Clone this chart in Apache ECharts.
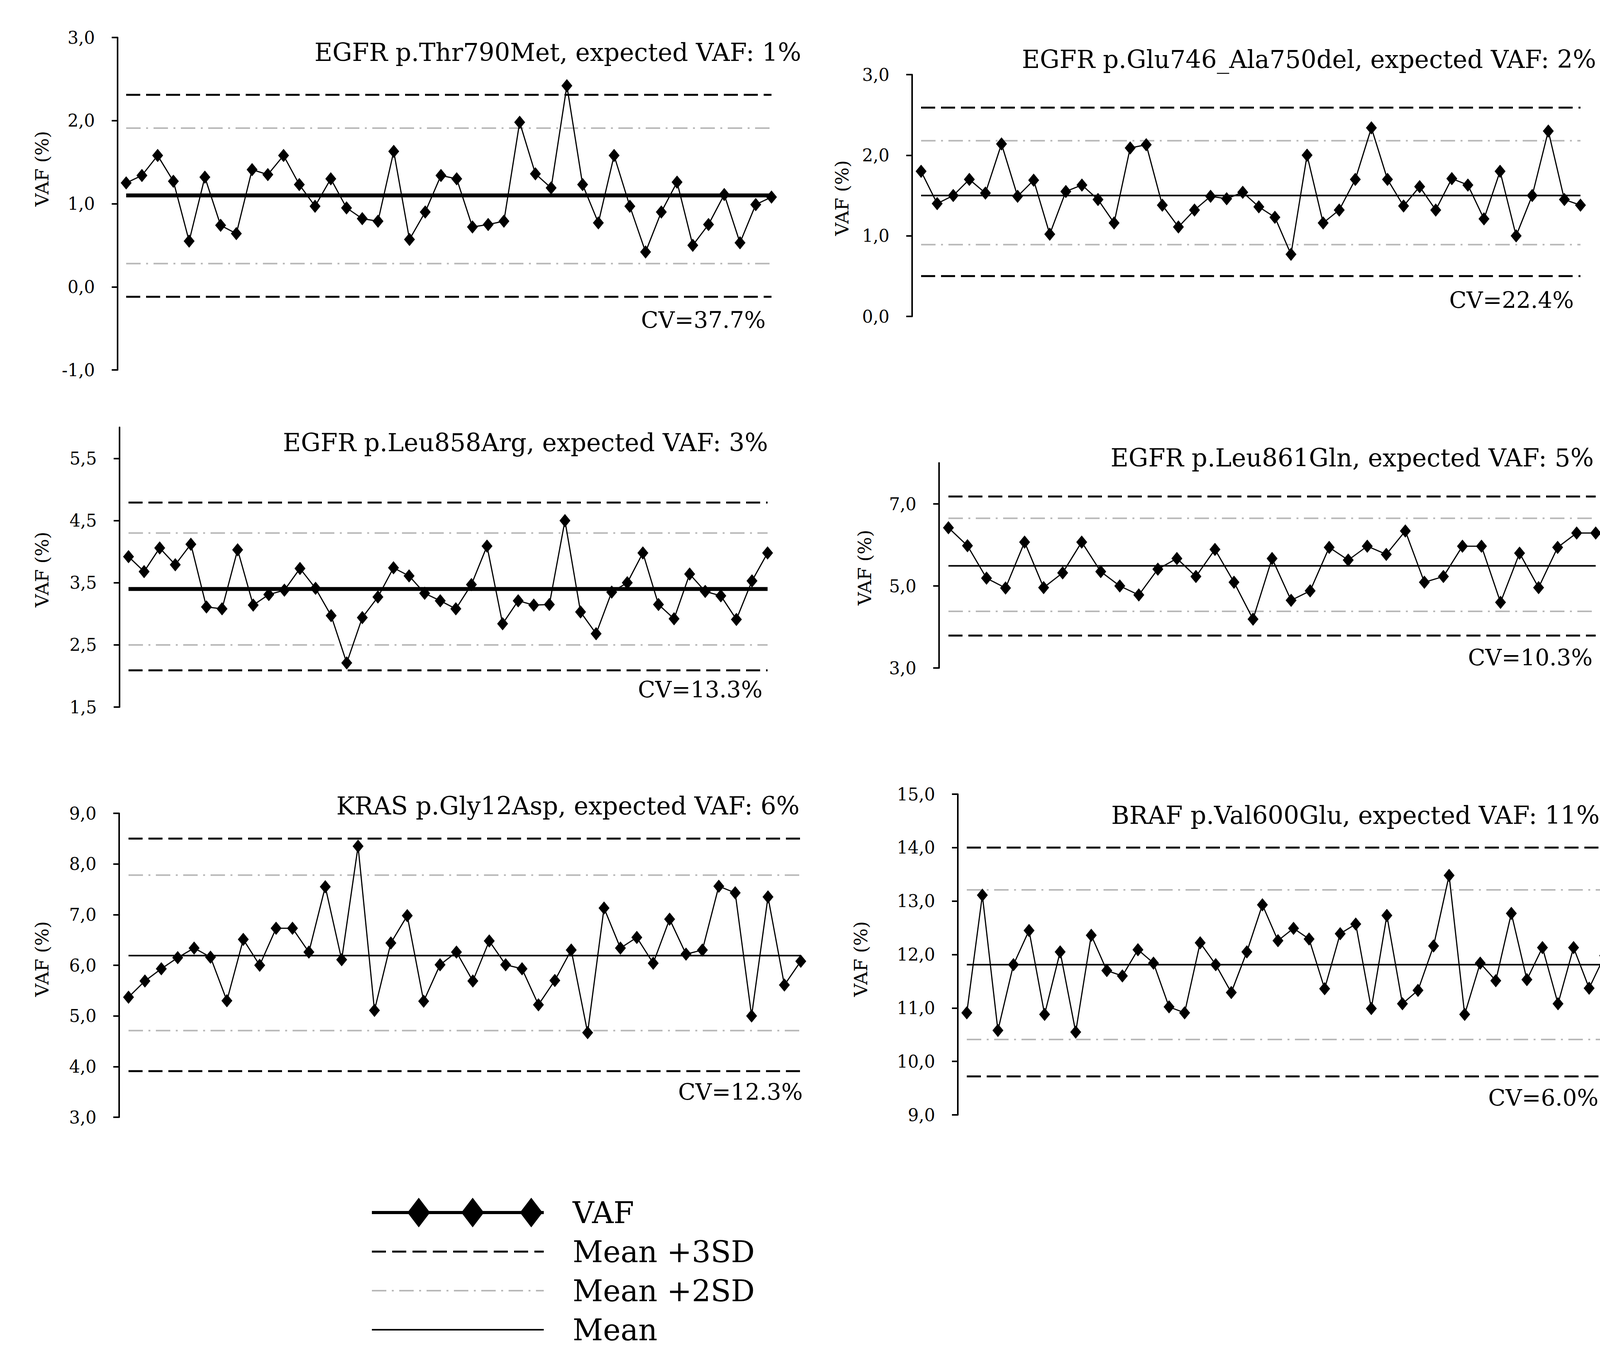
<!DOCTYPE html>
<html><head><meta charset="utf-8">
<script src="https://cdn.jsdelivr.net/npm/echarts@6/dist/echarts.min.js"></script>
<style>html,body{margin:0;padding:0;background:#fff;}#c{width:4181px;height:3461px;}</style>
</head><body><div id="c"></div>
<script>
// ---------------- DATA ----------------
const panelTitles = [
  'EGFR p.Thr790Met, expected VAF: 1%',
  'EGFR p.Glu746_Ala750del, expected VAF: 2%',
  'EGFR p.Leu858Arg, expected VAF: 3%',
  'EGFR p.Leu861Gln, expected VAF: 5%',
  'KRAS p.Gly12Asp, expected VAF: 6%',
  'BRAF p.Val600Glu, expected VAF: 11%'
];
const cvLabels = ['CV=37.7%', 'CV=22.4%', 'CV=13.3%', 'CV=10.3%', 'CV=12.3%', 'CV=6.0%'];
const yAxisTitle = 'VAF (%)';
const legendNames = ['VAF', 'Mean +3SD', 'Mean +2SD', 'Mean'];

const vafT790M = [1.25,1.34,1.58,1.27,0.55,1.32,0.74,0.64,1.41,1.35,1.58,1.23,0.97,1.30,0.95,0.82,0.79,1.63,0.57,0.90,1.34,1.30,0.72,0.75,0.79,1.98,1.36,1.19,2.42,1.23,0.77,1.58,0.97,0.42,0.90,1.26,0.50,0.75,1.11,0.53,0.99,1.08];
const vafE746del = [1.80,1.40,1.50,1.70,1.53,2.14,1.49,1.69,1.02,1.55,1.63,1.45,1.16,2.09,2.13,1.38,1.11,1.32,1.49,1.46,1.54,1.36,1.23,0.77,2.00,1.16,1.32,1.70,2.34,1.70,1.37,1.61,1.32,1.71,1.63,1.21,1.80,1.00,1.50,2.30,1.45,1.38];
const vafL858R = [3.92,3.68,4.06,3.79,4.12,3.11,3.08,4.03,3.14,3.31,3.38,3.73,3.41,2.97,2.21,2.94,3.27,3.74,3.61,3.33,3.21,3.08,3.47,4.09,2.84,3.21,3.14,3.15,4.50,3.03,2.68,3.35,3.50,3.98,3.15,2.92,3.64,3.36,3.29,2.91,3.53,3.98];
const vafL861Q = [6.42,5.98,5.19,4.95,6.07,4.96,5.32,6.07,5.35,5.00,4.78,5.41,5.67,5.23,5.89,5.09,4.19,5.67,4.65,4.88,5.94,5.63,5.97,5.77,6.34,5.09,5.23,5.97,5.97,4.60,5.80,4.96,5.94,6.29,6.29];
const vafG12D = [5.37,5.69,5.93,6.15,6.34,6.16,5.30,6.51,6.00,6.73,6.73,6.26,7.55,6.11,8.35,5.11,6.44,6.98,5.29,6.01,6.26,5.69,6.48,6.01,5.93,5.22,5.70,6.30,4.67,7.13,6.34,6.55,6.04,6.91,6.22,6.30,7.56,7.43,5.00,7.35,5.61,6.08];
const vafV600E = [10.91,13.11,10.58,11.81,12.45,10.88,12.05,10.55,12.36,11.70,11.60,12.09,11.84,11.02,10.91,12.22,11.81,11.29,12.05,12.93,12.26,12.49,12.29,11.36,12.39,12.57,10.99,12.73,11.08,11.33,12.16,13.48,10.88,11.84,11.51,12.77,11.53,12.13,11.08,12.13,11.37,11.98];

const meanVals = [1.10, 1.50, 3.40, 5.49, 6.19, 11.81];
const plus3SD  = [2.31, 2.59, 4.79, 7.18, 8.50, 14.00];
const plus2SD  = [1.91, 2.18, 4.30, 6.65, 7.78, 13.21];
const minus2SD = [0.28, 0.89, 2.50, 4.38, 4.71, 10.41];
const minus3SD = [-0.12, 0.50, 2.09, 3.79, 3.91, 9.72];

const yRanges = [[-1, 3], [0, 3], [1.5, 6], [3, 8], [3, 9], [9, 15]];
const yTickValues = [
  [-1, 0, 1, 2, 3],
  [0, 1, 2, 3],
  [1.5, 2.5, 3.5, 4.5, 5.5],
  [3, 5, 7],
  [3, 4, 5, 6, 7, 8, 9],
  [9, 10, 11, 12, 13, 14, 15]
];

// ---------------- LAYOUT / STYLE ----------------
const FONT = '"DejaVu Serif", "Liberation Serif", serif';
const layout = [
  {left: 301,  top: 96,   bottom: 947,  first: 323,  last: 1975, title: [2051, 134],  cv: [1960, 819],  name: [107, 432],  meanW: 10},
  {left: 2335, top: 191,  bottom: 810,  first: 2358, last: 4046, title: [4086, 152],  cv: [4029, 768],  name: [2155, 507], meanW: 4},
  {left: 306,  top: 1094, bottom: 1810, first: 329,  last: 1965, title: [1966, 1133], cv: [1952, 1765], name: [107, 1458], meanW: 10},
  {left: 2404, top: 1185, bottom: 1710, first: 2428, last: 4085, title: [4080, 1172], cv: [4077, 1683], name: [2213, 1453], meanW: 4},
  {left: 305,  top: 2082, bottom: 2860, first: 329,  last: 2050, title: [2047, 2063], cv: [2055, 2795], name: [107, 2455], meanW: 4},
  {left: 2452, top: 2033, bottom: 2854, first: 2475, last: 4108, title: [4095, 2087], cv: [4092, 2810], name: [2203, 2455], meanW: 4}
];
const DASH3 = [36, 15];
const DASH2 = [37, 14, 5, 14];
const GREY = '#b8b8b8';

const allVaf = [vafT790M, vafE746del, vafL858R, vafL861Q, vafG12D, vafV600E];
const fmt = v => (Math.round(v * 10) / 10).toFixed(1).replace('.', ',');

const grids = [], xAxes = [], yAxes = [], series = [], graphics = [];

allVaf.forEach((vals, i) => {
  const L = layout[i];
  const N = vals.length;
  const sp = (L.last - L.first) / (N - 1);
  const xmin = 1 - (L.first - L.left) / sp;
  const xmax = N + 0.3;
  grids.push({left: L.left, top: L.top, width: (xmax - xmin) * sp, height: L.bottom - L.top, containLabel: false, outerBoundsMode: 'none'});
  xAxes.push({type: 'value', gridIndex: i, min: xmin, max: xmax, show: false});
  yAxes.push({
    type: 'value', gridIndex: i, min: yRanges[i][0], max: yRanges[i][1], position: 'left',
    axisLine: {show: true, onZero: false, lineStyle: {color: '#000', width: 4}},
    axisTick: {show: true, inside: false, length: 15, lineStyle: {color: '#000', width: 4}, customValues: yTickValues[i]},
    axisLabel: {show: true, customValues: yTickValues[i], formatter: fmt, color: '#000', fontSize: 44, fontFamily: FONT, margin: 58},
    splitLine: {show: false}
  });
  const line = (name, v, style, z) => ({
    name, type: 'line', xAxisIndex: i, yAxisIndex: i, symbol: 'none', silent: true, z,
    data: [[1, v], [N, v]], lineStyle: style, animation: false
  });
  series.push(line('Mean +3SD', plus3SD[i], {color: '#000', width: 5, type: DASH3}, 2));
  series.push(line('Mean +3SD', minus3SD[i], {color: '#000', width: 5, type: DASH3}, 2));
  series.push(line('Mean +2SD', plus2SD[i], {color: GREY, width: 4, type: DASH2}, 2));
  series.push(line('Mean +2SD', minus2SD[i], {color: GREY, width: 4, type: DASH2}, 2));
  series.push(line('Mean', meanVals[i], {color: '#000', width: L.meanW, type: 'solid'}, 3));
  series.push({
    name: 'VAF', type: 'line', xAxisIndex: i, yAxisIndex: i, z: 5,
    data: vals.map((v, k) => [k + 1, v]),
    symbol: 'diamond', symbolSize: [28, 34], showSymbol: true,
    lineStyle: {color: '#000', width: 3}, itemStyle: {color: '#000'}, animation: false
  });
  graphics.push({type: 'text', x: L.title[0], y: L.title[1], style: {text: panelTitles[i], fontSize: 63, fontFamily: FONT, fill: '#000', align: 'right', verticalAlign: 'middle'}});
  graphics.push({type: 'text', x: L.cv[0], y: L.cv[1], style: {text: cvLabels[i], fontSize: 58, fontFamily: FONT, fill: '#000', align: 'right', verticalAlign: 'middle'}});
  graphics.push({type: 'text', x: L.name[0], y: L.name[1], rotation: Math.PI / 2, style: {text: yAxisTitle, fontSize: 47, fontFamily: FONT, fill: '#000', align: 'center', verticalAlign: 'middle'}});
});

// legend icons (drawn as paths in a 440 x 76 box)
const IW = 440, IH = 76;
function vafIcon() {
  let p = `M0 34L${IW} 34L${IW} 42L0 42Z`;
  [120, 258, 408].forEach(cx => { p += `M${cx - 29} 38L${cx} 0L${cx + 29} 38L${cx} ${IH}Z`; });
  return 'path://' + p;
}
function dashIcon(pattern, h) {
  let p = '', x = 0, k = 0;
  while (x < IW) {
    const len = pattern[k % pattern.length];
    if (k % 2 === 0) { const e = Math.min(IW, x + len); p += `M${x} 0L${e} 0L${e} ${h}L${x} ${h}Z`; }
    x += len; k++;
  }
  return 'path://' + p;
}
const legendData = [
  {name: legendNames[0], icon: vafIcon(), itemStyle: {color: '#000', borderWidth: 0}},
  {name: legendNames[1], icon: dashIcon([36, 16], 5), itemStyle: {color: '#000', borderWidth: 0}},
  {name: legendNames[2], icon: dashIcon([37, 14, 5, 14], 4), itemStyle: {color: GREY, borderWidth: 0}},
  {name: legendNames[3], icon: 'path://M0 0L440 0L440 4L0 4Z', itemStyle: {color: '#000', borderWidth: 0}}
];

const chart = echarts.init(document.getElementById('c'), null, {renderer: 'svg', width: 4181, height: 3461});
chart.setOption({
  backgroundColor: '#fff',
  animation: false,
  textStyle: {fontFamily: FONT, color: '#000'},
  grid: grids, xAxis: xAxes, yAxis: yAxes, series,
  legend: {
    orient: 'vertical', left: 947, top: 3061, itemWidth: IW, itemHeight: IH, itemGap: 24,
    selectedMode: false, symbolKeepAspect: true, data: legendData,
    textStyle: {fontSize: 76, fontFamily: FONT, color: '#000', lineHeight: 76, padding: [0, 0, 0, 69]}
  },
  graphic: graphics
});
</script></body></html>
